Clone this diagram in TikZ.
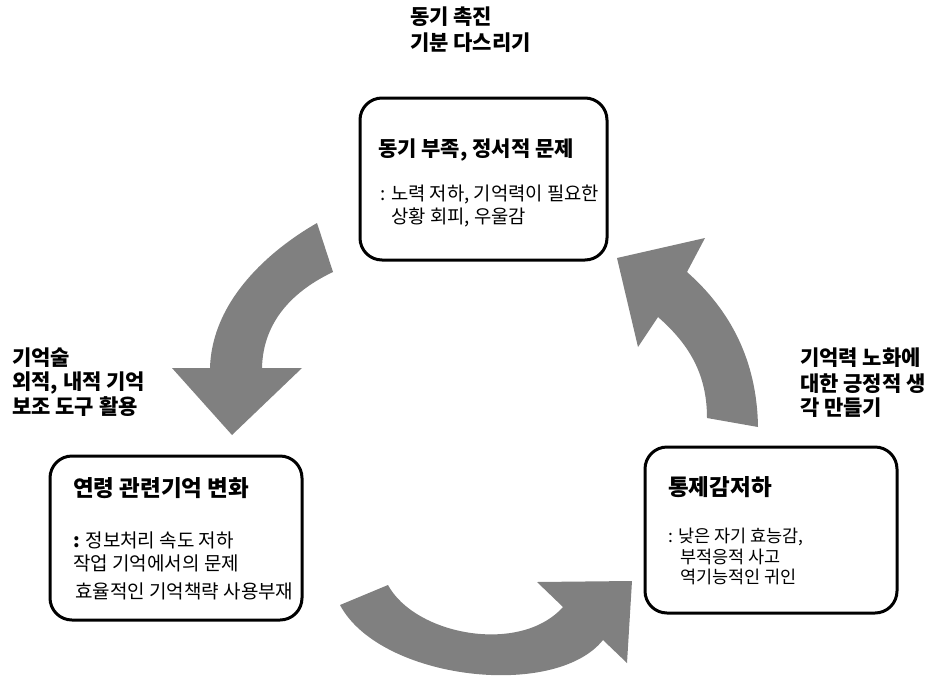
\documentclass[tikz,border=0pt]{standalone}
\usepackage{fontspec}
\setmainfont{Noto Sans CJK KR}
\usepackage{tikz}
\definecolor{arrowgray}{HTML}{808080}

\begin{document}
\begin{tikzpicture}[x=1pt,y=-1pt,
    stagebox/.style={draw, line width=3pt, rounded corners=22pt, inner sep=0},
    headtext/.style={anchor=west, inner sep=0, font=\bfseries\fontsize{#1}{#1}\selectfont},
    headtext/.default=21,
    bodytext/.style={anchor=west, inner sep=0, font=\fontsize{#1}{#1}\selectfont},
    bodytext/.default=18.8,
    sidetext/.style={anchor=west, inner sep=0, font=\bfseries\fontsize{21}{21}\selectfont}]
    \useasboundingbox (0,0) rectangle (940,686);
    % Motivation box (top)
    \node [stagebox, minimum width=247pt, minimum height=162pt] (motiv) at (483.5,179) {};
    \node [headtext] (motivhead) at (378,150) {동기 부족, 정서적 문제};
    \node [bodytext] (motivone) at (380,195) {: 노력 저하, 기억력이 필요한};
    \node [bodytext] (motivtwo) at (391,217) {상황 회피, 우울감};
    % Memory change box (left)
    \node [stagebox, minimum width=252pt, minimum height=164pt] (memory) at (176,538) {};
    \node [headtext=22.5] (memoryhead) at (73,488) {연령 관련기억 변화};
    \node [bodytext=19] (memoryone) at (73,540) {\textbf{:} 정보처리 속도 저하};
    \node [bodytext=19] (memorytwo) at (73,563) {작업 기억에서의 문제};
    \node [bodytext=19] (memorythree) at (75,591) {효율적인 기억책략 사용부재};
    % Control box (right)
    \node [stagebox, minimum width=252pt, minimum height=166pt] (control) at (771,530) {};
    \node [headtext=22.5] (controlhead) at (668,487) {통제감저하};
    \node [bodytext=17.5] (controlone) at (668,537) {: 낮은 자기 효능감,};
    \node [bodytext=17.5] (controltwo) at (680,557) {부적응적 사고};
    \node [bodytext=17.5] (controlthree) at (680,577) {역기능적인 귀인};
    % Side labels
    \node [sidetext] (topone) at (410,17) {동기 촉진};
    \node [sidetext] (toptwo) at (410,43) {기분 다스리기};
    \node [sidetext] (leftone) at (12,358) {기억술};
    \node [sidetext] (lefttwo) at (12,383) {외적, 내적 기억};
    \node [sidetext] (leftthree) at (12,407) {보조 도구 활용};
    \node [sidetext] (rightone) at (800,358) {기억력 노화에};
    \node [sidetext] (righttwo) at (800,384) {대한 긍정적 생};
    \node [sidetext] (rightthree) at (800,408) {각 만들기};
    % Curved arrow: top to left
    \fill [arrowgray] (317,223) .. controls (270,250) and (212,300) .. (210,368)
        -- (172,368) -- (232,435) -- (302,368) -- (262,368)
        .. controls (263,320) and (295,290) .. (333,272) -- cycle;
    % Curved arrow: left to right
    \fill [arrowgray] (340,605) .. controls (380,680) and (555,700) .. (603,640)
        -- (627,663) -- (632,581) -- (537,582) -- (563,607)
        .. controls (520,655) and (415,635) .. (388,585) -- cycle;
    % Curved arrow: right to top
    \fill [arrowgray] (758,427) .. controls (757,360) and (730,310) .. (687,272)
        -- (705,238) -- (617,258) -- (638,347) -- (658,317)
        .. controls (690,345) and (707,375) .. (707,418) -- cycle;
\end{tikzpicture}
\end{document}
